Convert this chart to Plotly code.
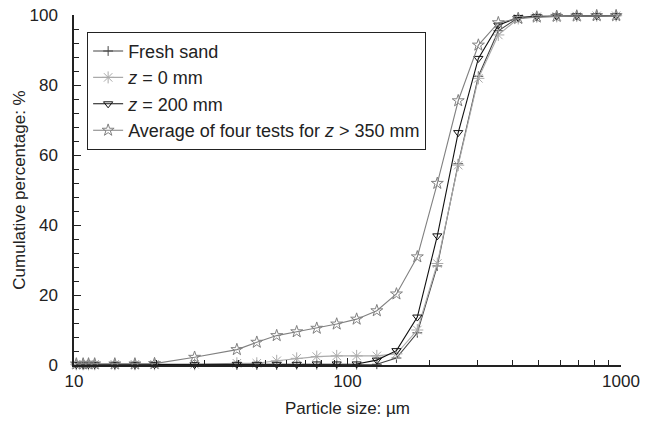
import plotly.graph_objects as go

sizes = [10.2, 10.8, 11.3, 11.9, 14.1, 16.7, 19.7, 27.6, 39.4, 46.6, 55.1, 65.2, 77.2, 91.3,
         108, 128, 151, 180, 213, 254, 301, 356, 421, 492, 582, 689, 815, 960]

fresh_sand = [0.0, 0.0, 0.0, 0.0, 0.0, 0.0, 0.0, 0.0, 0.0, 0.0, 0.0, 0.1, 0.1, 0.1,
              0.1, 0.2, 2.0, 9.2, 28.3, 57.5, 82.5, 95.5, 99.2, 99.5, 99.6, 99.7, 99.8, 99.8]
z0 = [0.2, 0.2, 0.2, 0.2, 0.2, 0.2, 0.2, 0.2, 0.5, 0.5, 1.2, 1.9, 2.4, 2.6,
      2.6, 2.6, 3.2, 10.0, 29.0, 57.1, 81.9, 94.3, 99.0, 99.5, 99.6, 99.7, 99.8, 99.8]
z200 = [0.1, 0.1, 0.1, 0.1, 0.1, 0.1, 0.1, 0.1, 0.2, 0.2, 0.2, 0.2, 0.3, 0.3,
        0.3, 1.4, 4.1, 13.7, 36.9, 66.4, 87.6, 97.1, 99.3, 99.6, 99.7, 99.8, 99.8, 99.8]
avg350 = [0.3, 0.3, 0.3, 0.3, 0.3, 0.3, 0.4, 2.2, 4.4, 6.5, 8.4, 9.5, 10.5, 11.7,
          13.1, 15.5, 20.3, 30.9, 51.9, 75.5, 91.4, 97.8, 99.0, 99.4, 99.6, 99.7, 99.8, 99.8]

names = ["Fresh sand", "<i>z</i> = 0 mm", "<i>z</i> = 200 mm",
         "Average of four tests for <i>z</i> &gt; 350 mm"]

fig = go.Figure()
series = [
    (fresh_sand, names[0], "#444444", "cross-thin-open", 7),
    (z0, names[1], "#aaaaaa", "asterisk-open", 10),
    (z200, names[2], "#111111", "triangle-down-open", 8),
    (avg350, names[3], "#808080", "star-open", 9),
]
for ys, nm, col, sym, sz in series:
    fig.add_trace(go.Scatter(
        x=sizes, y=ys, name=nm, mode="lines+markers",
        line=dict(color=col, width=1.1),
        marker=dict(symbol=sym, size=sz, color=col, line=dict(color=col, width=1)),
        cliponaxis=False,
    ))

minor_x = [v * m for v in (10, 100) for m in range(2, 10)]

fig.update_layout(
    width=650, height=421,
    margin=dict(l=74, r=29, t=15, b=56),
    paper_bgcolor="white", plot_bgcolor="white",
    font=dict(family="Liberation Sans, Arial, sans-serif", size=17, color="#222"),
    showlegend=True,
    legend=dict(x=0.024, y=0.952, xanchor="left", yanchor="top",
                bgcolor="white", bordercolor="#222", borderwidth=1,
                font=dict(size=18), tracegroupgap=0, itemwidth=30),
    xaxis=dict(
        type="log", range=[1, 3], automargin=False,
        tickvals=[10, 100, 1000], ticktext=["10", "100", "1000"],
        ticks="inside", ticklen=7, tickwidth=1.3, tickcolor="#222",
        minor=dict(tickmode="array", tickvals=minor_x, ticks="inside",
                   ticklen=5, tickwidth=1.2, tickcolor="#222"),
        showline=True, linecolor="#222", linewidth=1.5,
        showgrid=False, zeroline=False, ticklabeloverflow="allow",
        title=dict(text="Particle size: µm", font=dict(size=17), standoff=12),
        tickfont=dict(size=17),
    ),
    yaxis=dict(
        range=[0, 100], tickvals=[0, 20, 40, 60, 80, 100], automargin=False,
        ticks="inside", ticklen=7, tickwidth=1.3, tickcolor="#222",
        minor=dict(dtick=4, tick0=0, ticks="inside", ticklen=5,
                   tickwidth=1.2, tickcolor="#222"),
        showline=True, linecolor="#222", linewidth=1.5,
        showgrid=False, zeroline=False, ticklabeloverflow="allow",
        ticklabelstandoff=11,
        title=dict(text="Cumulative percentage: %", font=dict(size=17), standoff=0),
        tickfont=dict(size=17),
    ),
)

fig.write_html("out.html", config={"displayModeBar": False},
               post_script="document.body.style.margin='0px';")
